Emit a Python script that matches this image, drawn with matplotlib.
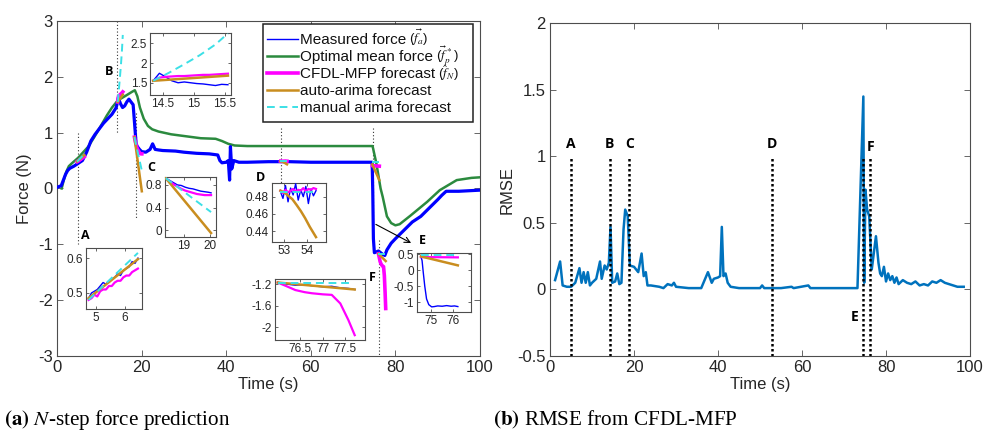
import matplotlib.pyplot as plt
from matplotlib.lines import Line2D
from matplotlib.patches import Rectangle

plt.rcParams['font.family'] = ['Liberation Sans', 'DejaVu Sans']
plt.rcParams['mathtext.fontset'] = 'stix'
plt.rcParams['axes.unicode_minus'] = False

BLUE = '#0000ff'
GREEN = '#2b8a3e'
MAGENTA = '#ff00ff'
ORANGE = '#c98d1f'
CYAN = '#3ce0e6'
RMSE_BLUE = '#0072bd'

# measured force over the whole run
meas_t = [0, 1, 1.5, 2, 2.5, 3, 4, 5, 6, 7,
          8, 9, 10, 11, 12, 13, 14, 14.5, 15, 15.5,
          16, 16.5, 17, 17.5, 18, 18.4, 18.7, 19, 19.5, 20,
          21, 22, 22.6, 23.2, 24, 25, 28, 30, 33, 36,
          38, 38.5, 39, 40, 40.5, 40.8, 41, 41.3, 41.8, 43,
          45, 50, 55, 60, 65, 70, 74.5, 74.65, 74.8, 75.03,
          76, 77, 77.5, 78, 79, 80, 82, 84, 86, 88,
          90, 91, 92, 93, 95, 100]
meas_f = [0.02, 0.05, 0.15, 0.25, 0.32, 0.36, 0.4, 0.45, 0.5, 0.65,
          0.85, 0.97, 1.07, 1.17, 1.25, 1.33, 1.45, 1.62, 1.52, 1.45,
          1.48, 1.55, 1.6, 1.55, 1.5, 1.1, 0.8, 0.75, 0.7, 0.66,
          0.65, 0.7, 0.8, 0.7, 0.69, 0.68, 0.67, 0.65, 0.63, 0.62,
          0.6, 0.5, 0.46, 0.47, 0.5, 0.15, 0.75, 0.35, 0.5, 0.47,
          0.47, 0.48, 0.48, 0.47, 0.47, 0.47, 0.47, -0.05, -0.9, -1.15,
          -1.12, -1.18, -1.2, -1.1, -0.98, -0.9, -0.75, -0.6, -0.5, -0.35,
          -0.2, -0.12, -0.05, -0.05, -0.05, -0.03]

# optimal mean force
opt_t = [1.1, 1.6, 2.2, 2.8, 3.5, 5, 6.2, 7.4, 8.8, 10.2,
         11.8, 13, 14.4, 16, 17.7, 18.4, 19, 19.6, 20.5, 21.5,
         22.5, 24, 27, 30, 34, 37.5, 39, 40.5, 42, 45,
         60, 74.6, 75.5, 76.5, 77, 78, 79, 80, 81, 83.5,
         87.5, 90.5, 94.5, 98, 100]
opt_f = [0.0, 0.15, 0.3, 0.4, 0.45, 0.55, 0.65, 0.75, 0.92, 1.1,
         1.31, 1.45, 1.58, 1.65, 1.73, 1.76, 1.65, 1.45, 1.25, 1.12,
         1.06, 1.02, 0.97, 0.94, 0.9, 0.89, 0.85, 0.8, 0.77, 0.76,
         0.76, 0.76, 0.45, 0.0, -0.15, -0.5, -0.62, -0.66, -0.64, -0.49,
         -0.24, -0.03, 0.15, 0.19, 0.2]

# forecast windows A-F: measured, CFDL-MFP, auto-arima, manual arima
a_t = [4.75, 4.85, 4.95, 5.05, 5.15, 5.25, 5.35, 5.45, 5.55, 5.65,
       5.75, 5.85, 5.95, 6.05, 6.15, 6.25, 6.35, 6.45]
a_meas = [0.485, 0.50, 0.505, 0.51, 0.52, 0.53, 0.525, 0.535, 0.54, 0.545,
          0.555, 0.55, 0.565, 0.57, 0.575, 0.59, 0.585, 0.6]
a_cfdl = [0.48, 0.485, 0.495, 0.49, 0.505, 0.51, 0.51, 0.52, 0.52, 0.53,
          0.535, 0.535, 0.545, 0.55, 0.55, 0.56, 0.565, 0.57]
a_auto_t, a_auto = [4.75, 6.45], [0.485, 0.597]
a_man_t, a_man = [4.75, 6.45], [0.48, 0.615]

b_t = [14.35, 14.45, 14.55, 14.65, 14.75, 14.85, 14.95, 15.05, 15.15, 15.25,
       15.35, 15.45, 15.55]
b_meas = [1.55, 1.74, 1.65, 1.55, 1.5, 1.52, 1.5, 1.48, 1.47, 1.45,
          1.43, 1.46, 1.45]
b_cfdl = [1.55, 1.63, 1.65, 1.66, 1.67, 1.67, 1.68, 1.69, 1.7, 1.7,
          1.71, 1.72, 1.73]
b_auto_t, b_auto = [14.35, 15.55], [1.55, 1.68]
b_man_t = [14.35, 14.6, 14.85, 15.1, 15.35, 15.55]
b_man = [1.55, 1.75, 1.97, 2.2, 2.47, 2.75]

c_t = [18.3, 18.45, 18.6, 18.75, 18.9, 19.05, 19.2, 19.35, 19.5, 19.65,
       19.8, 19.95, 20.05]
c_meas = [0.92, 0.88, 0.84, 0.8, 0.79, 0.76, 0.74, 0.73, 0.71, 0.69,
          0.68, 0.67, 0.66]
c_cfdl = [0.92, 0.86, 0.81, 0.77, 0.73, 0.7, 0.68, 0.66, 0.64, 0.63,
          0.62, 0.62, 0.62]
c_auto_t, c_auto = [18.3, 20.05], [0.92, -0.05]
c_man_t, c_man = [18.3, 20.05], [0.92, 0.32]

d_t = [52.83, 52.94, 53.05, 53.16, 53.27, 53.38, 53.49, 53.6, 53.71, 53.82,
       53.93, 54.04, 54.15, 54.26, 54.37]
d_meas = [0.486, 0.478, 0.493, 0.474, 0.49, 0.482, 0.495, 0.476, 0.488, 0.48,
          0.492, 0.472, 0.489, 0.481, 0.487]
d_cfdl = [0.487, 0.484, 0.488, 0.485, 0.487, 0.489, 0.486, 0.488, 0.487, 0.49,
          0.486, 0.489, 0.488, 0.49, 0.489]
d_auto_t = [52.83, 53.0, 53.17, 53.35, 53.54, 53.72, 53.9, 54.1, 54.37]
d_auto = [0.487, 0.485, 0.481, 0.477, 0.47, 0.463, 0.455, 0.445, 0.433]
d_man_t, d_man = [52.83, 54.37], [0.486, 0.486]

e_t = [74.55, 74.6, 74.65, 74.72, 74.8, 74.9, 75.03, 75.15, 75.3, 75.5,
       75.7, 75.9, 76.05, 76.2]
e_meas = [0.42, 0.3, -0.05, -0.5, -0.9, -1.08, -1.15, -1.14, -1.12, -1.13,
          -1.11, -1.13, -1.12, -1.14]
e_cfdl_t, e_cfdl = [74.55, 76.2], [0.41, 0.4]
e_auto_t, e_auto = [74.55, 76.2], [0.43, 0.15]
e_man_t, e_man = [74.55, 76.2], [0.47, 0.47]

f_t = [76.0, 76.2, 76.39, 76.6, 76.76, 77.0, 77.2, 77.39, 77.57, 77.71]
f_meas = [-1.17, -1.2, -1.22, -1.21, -1.23, -1.25, -1.24, -1.27, -1.28, -1.3]
f_cfdl = [-1.17, -1.24, -1.31, -1.35, -1.37, -1.39, -1.4, -1.56, -1.87, -2.15]
f_auto_t, f_auto = [76.0, 77.71], [-1.17, -1.3]
f_man_t, f_man = [76.0, 77.6], [-1.17, -1.17]

# RMSE of the CFDL-MFP forecast
rmse_t = [1.2, 2.4, 3.0, 4.0, 5.0, 6.0, 7.0, 7.5, 8.0, 8.5,
          9.0, 9.5, 10.0, 11.0, 11.9, 12.3, 13.0, 13.5, 14.0, 14.4,
          14.8, 15.5, 16.0, 16.5, 17.0, 17.5, 17.9, 18.5, 19.0, 20.0,
          21.0, 21.8, 22.3, 22.8, 23.2, 24.0, 26.0, 27.0, 28.0, 29.0,
          29.5, 30.0, 33.0, 36.0, 37.6, 38.5, 39.0, 40.0, 40.5, 40.9,
          41.3, 41.8, 42.3, 43.0, 45.0, 50.0, 50.5, 51.0, 55.0, 57.5,
          58.0, 61.5, 62.0, 66.0, 70.0, 73.2, 74.6, 74.8, 75.1, 75.5,
          76.0, 76.6, 77.0, 77.6, 78.2, 78.6, 79.0, 79.5, 80.0, 80.5,
          81.0, 81.5, 82.0, 82.5, 83.0, 84.0, 85.0, 86.0, 87.0, 88.0,
          89.0, 90.0, 91.0, 92.0, 93.0, 94.0, 95.0, 96.0, 97.0, 98.5]
rmse_v = [0.07, 0.21, 0.03, 0.02, 0.02, 0.05, 0.16, 0.05, 0.13, 0.05,
          0.13, 0.03, 0.05, 0.08, 0.21, 0.08, 0.18, 0.15, 0.2, 0.47,
          0.05, 0.06, 0.12, 0.04, 0.05, 0.45, 0.6, 0.55, 0.18, 0.17,
          0.13, 0.27, 0.1, 0.13, 0.03, 0.03, 0.02, 0.01, 0.04, 0.03,
          0.05, 0.02, 0.01, 0.01, 0.13, 0.05, 0.08, 0.09, 0.1, 0.47,
          0.1, 0.12, 0.05, 0.02, 0.01, 0.01, 0.03, 0.01, 0.01, 0.02,
          0.01, 0.03, 0.01, 0.01, 0.01, 0.01, 1.45, 0.05, 0.75, 0.6,
          0.55, 0.15, 0.25, 0.4, 0.2, 0.12, 0.1, 0.17, 0.06, 0.12,
          0.07, 0.1, 0.05, 0.09, 0.04, 0.07, 0.05, 0.04, 0.06, 0.03,
          0.04, 0.03, 0.06, 0.05, 0.07, 0.05, 0.04, 0.03, 0.02, 0.02]

event_names = ['A', 'B', 'C', 'D', 'E', 'F']
event_times = [5.0, 14.3, 18.7, 52.9, 74.6, 76.2]

legend_words = ['Measured force', 'Optimal mean force', 'CFDL-MFP forecast',
                'auto-arima forecast', 'manual arima forecast']
legend_symbols = [r'($\vec{f_a}$)', r'($\vec{f}_p^{\,*}$)', r'($\hat{f}_N$)', '', '']
symbol_shift = [4.6, 3.6, 5.8, 0, 0]


def matlab_axes(a, size):
    for s in a.spines.values():
        s.set_color('#4d4d4d')
        s.set_linewidth(0.8)
    a.tick_params(direction='in', top=True, right=True, length=4, width=0.6,
                  color='#4d4d4d', labelcolor='#262626', labelsize=size, pad=3)


def draw_window(a, mt, mf, ct, cf, at, af, nt, nf):
    a.plot(mt, mf, color=BLUE, lw=1.0, zorder=3)
    a.plot(ct, cf, color=MAGENTA, lw=1.6, zorder=4)
    a.plot(at, af, color=ORANGE, lw=1.8, zorder=5)
    a.plot(nt, nf, color=CYAN, lw=1.4, ls=(0, (4, 2.5)), zorder=6)


def fx(px):
    return px / 995


def fy(py):
    return 1 - py / 432


fig = plt.figure(figsize=(9.95, 4.32), dpi=100)

# ---- (a) N-step force prediction ----
ax = fig.add_axes([0.0573, 0.176, 0.4251, 0.7754])
ax.plot(opt_t, opt_f, color=GREEN, lw=1.8, zorder=2)
ax.plot(meas_t, meas_f, color=BLUE, lw=2.3, zorder=3)

windows = [
    (a_t, a_meas, a_t, a_cfdl, a_auto_t, a_auto, a_man_t, a_man),
    (b_t, b_meas, b_t, b_cfdl, b_auto_t, b_auto, b_man_t, b_man),
    (c_t, c_meas, c_t, c_cfdl, c_auto_t, c_auto, c_man_t, c_man),
    (d_t, d_meas, d_t, d_cfdl, d_auto_t, d_auto, d_man_t, d_man),
    (e_t, e_meas, e_cfdl_t, e_cfdl, e_auto_t, e_auto, e_man_t, e_man),
    (f_t, f_meas, f_t, f_cfdl, f_auto_t, f_auto, f_man_t, f_man),
]
for w in windows:
    ax.plot(w[2], w[3], color=MAGENTA, lw=2.6, zorder=4)
    ax.plot(w[4], w[5], color=ORANGE, lw=1.8, zorder=5)
    ax.plot(w[6], w[7], color=CYAN, lw=1.4, ls=(0, (4, 2.5)), zorder=6)

# dotted markers for each forecast window
spans = [(1.0, -1.0), (3.0, 1.0), (1.35, -0.52), (1.08, 0.1), (1.08, -1.1), (-0.92, -3.0)]
for t, (y0, y1) in zip(event_times, spans):
    ax.plot([t, t], [y0, y1], color='#333333', lw=0.8, ls=(0, (1, 2)), zorder=1)

letter_pos = [(6.8, -0.85), (12.3, 2.09), (22.2, 0.37), (48.0, 0.2), (86.3, -0.94), (74.5, -1.6)]
for name, (x, y) in zip(event_names, letter_pos):
    ax.text(x, y, name, fontsize=9, fontweight='bold', family='Open Sans',
            ha='center', va='center', zorder=7)

ax.annotate('', xy=(84.3, -1.0), xytext=(74.8, -0.62),
            arrowprops=dict(arrowstyle='->', color='k', lw=0.8), zorder=7)

ax.set_xlim(0, 100)
ax.set_ylim(-3, 3)
ax.set_xticks(range(0, 101, 20))
ax.set_yticks(range(-3, 4))
matlab_axes(ax, 12)
ax.set_xlabel('Time (s)', fontsize=12, color='#262626', labelpad=1)
ax.set_ylabel('Force (N)', fontsize=12, color='#262626', labelpad=4)

# legend box with fixed row positions; the symbols sit in their own smaller text
fig.add_artist(Rectangle((fx(263), fy(122)), fx(210), 98 / 432, transform=fig.transFigure,
                         facecolor='white', edgecolor='#222222', lw=1.1, zorder=20))
legend_styles = [dict(color=BLUE, lw=1.0),
                 dict(color=GREEN, lw=1.8),
                 dict(color=MAGENTA, lw=2.6),
                 dict(color=ORANGE, lw=1.8),
                 dict(color=CYAN, lw=1.4, ls=(0, (4, 2.5)))]
rows_y = [38.5, 55.5, 72.5, 89.5, 106.5]
renderer = fig.canvas.get_renderer()
for style, word, sym, shift, ry in zip(legend_styles, legend_words, legend_symbols,
                                       symbol_shift, rows_y):
    fig.add_artist(Line2D([fx(267), fx(298)], [fy(ry + 0.5), fy(ry + 0.5)],
                          transform=fig.transFigure, zorder=21, **style))
    txt = fig.text(fx(300), fy(ry + 5.2), word, fontsize=11, color='#111111',
                   va='baseline', ha='left', zorder=21)
    if sym:
        end = txt.get_window_extent(renderer).x1
        fig.text(fx(end + 3), fy(ry + shift), sym, fontsize=9.5, color='#111111',
                 va='baseline', ha='left', zorder=21)

# zoomed views of each forecast window
insets = [
    ([0.0864, 0.2847, 0.0563, 0.1412], (4.66, 6.59), (0.454, 0.629), [5, 6], [0.5, 0.6], ['5', '6'], ['0.5', '0.6']),
    ([0.1508, 0.7801, 0.0814, 0.1435], (14.3, 15.6), (1.19, 2.76), [14.5, 15, 15.5], [1.5, 2, 2.5], ['14.5', '15', '15.5'], ['1.5', '2', '2.5']),
    ([0.1658, 0.4514, 0.0510, 0.1389], (18.27, 20.23), (-0.12, 0.94), [19, 20], [0, 0.4, 0.8], ['19', '20'], ['0', '0.4', '0.8']),
    ([0.2730, 0.4392, 0.0548, 0.1366], (52.45, 54.81), (0.427, 0.4956), [53, 54], [0.44, 0.46, 0.48], ['53', '54'], ['0.44', '0.46', '0.48']),
    ([0.4188, 0.2778, 0.0546, 0.1375], (74.36, 76.79), (-1.31, 0.55), [75, 76], [-1, -0.5, 0, 0.5], ['75', '76'], ['-1', '-0.5', '0', '0.5']),
    ([0.2764, 0.2130, 0.0905, 0.1405], (75.94, 77.94), (-2.24, -1.11), [76.5, 77, 77.5], [-2, -1.6, -1.2], ['76.5', '77', '77.5'], ['-2', '-1.6', '-1.2']),
]
for w, (rect, xl, yl, xt, yt, xtl, ytl) in zip(windows, insets):
    ins = fig.add_axes(rect)
    ins.set_zorder(8)
    draw_window(ins, *w)
    ins.set_xlim(*xl)
    ins.set_ylim(*yl)
    ins.set_xticks(xt)
    ins.set_yticks(yt)
    ins.set_xticklabels(xtl)
    ins.set_yticklabels(ytl)
    matlab_axes(ins, 8.5)
    ins.tick_params(length=2.5, pad=2)

# ---- (b) RMSE from CFDL-MFP ----
bx = fig.add_axes([0.5528, 0.176, 0.4221, 0.770])
bx.plot(rmse_t, rmse_v, color=RMSE_BLUE, lw=1.8, zorder=3)
for name, t in zip(event_names, event_times):
    bx.plot([t, t], [-0.5, 1.0], color='k', lw=1.8, ls=(0, (1, 1)), zorder=4)
rmse_letters = [(5.0, 1.09), (14.2, 1.09), (18.9, 1.09), (52.9, 1.09), (72.5, -0.21), (76.4, 1.07)]
for name, (x, y) in zip(event_names, rmse_letters):
    bx.text(x, y, name, fontsize=10, fontweight='bold', family='Open Sans',
            ha='center', va='center', zorder=5)
bx.set_xlim(0, 100)
bx.set_ylim(-0.5, 2)
bx.set_xticks(range(0, 101, 20))
bx.set_yticks([-0.5, 0, 0.5, 1, 1.5, 2])
bx.set_yticklabels(['-0.5', '0', '0.5', '1', '1.5', '2'])
matlab_axes(bx, 12)
bx.set_xlabel('Time (s)', fontsize=12, color='#262626', labelpad=1)
bx.set_ylabel('RMSE', fontsize=12, color='#262626', labelpad=2)

# captions
fig.text(0.004, 0.028, r'$\mathbf{(a)}$ $N$-step force prediction', fontsize=15.2,
         family='Liberation Serif', va='center')
fig.text(0.4955, 0.028, r'$\mathbf{(b)}$ RMSE from CFDL-MFP', fontsize=15.2,
         family='Liberation Serif', va='center')

fig.savefig('out.png', dpi=100)
